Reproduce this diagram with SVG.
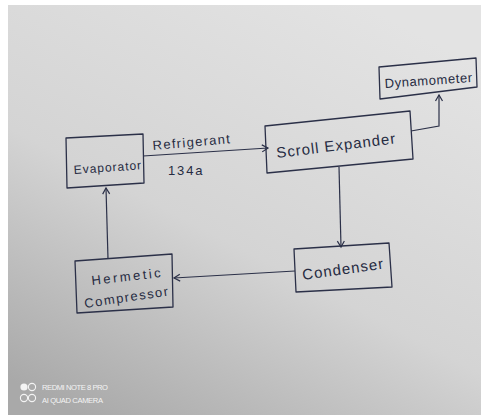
<svg xmlns="http://www.w3.org/2000/svg" width="481" height="419" viewBox="0 0 481 419">
<defs>
<linearGradient id="bg" x1="0.75" y1="0" x2="0.15" y2="1">
<stop offset="0" stop-color="#e3e3e3"/>
<stop offset="0.55" stop-color="#d4d4d4"/>
<stop offset="1" stop-color="#a9a9a9"/>
</linearGradient>
<marker id="arr" markerWidth="10" markerHeight="10" refX="8" refY="5" orient="auto" markerUnits="userSpaceOnUse">
<path d="M2,1.5 L8,5 L2,8.5" fill="none" stroke="#2b3048" stroke-width="1.2"/>
</marker>
<style>
.box{fill:none;stroke:#2b3048;stroke-width:1.3;stroke-linejoin:round}
.ln{fill:none;stroke:#2b3048;stroke-width:1.2}
.t{font-family:"Liberation Sans",Arial,sans-serif;fill:#262b42;letter-spacing:0.5px}
.wm{font-family:"Liberation Sans",Arial,sans-serif;fill:#f4f4f4;font-size:7.6px}
</style>
</defs>
<rect x="0" y="0" width="481" height="419" fill="#ffffff"/>
<rect x="8" y="5" width="473" height="410" fill="url(#bg)"/>

<g id="connectors">
<line class="ln" x1="143" y1="156" x2="268" y2="148" marker-end="url(#arr)"/>
<polyline class="ln" points="411,131 439,126 439,95" marker-end="url(#arr)"/>
<line class="ln" x1="339" y1="167" x2="341" y2="247" marker-end="url(#arr)"/>
<line class="ln" x1="295" y1="271" x2="174" y2="278" marker-end="url(#arr)"/>
<line class="ln" x1="108" y1="259" x2="106" y2="188" marker-end="url(#arr)"/>
<text class="t" font-size="13" x="153" y="150" textLength="78" transform="rotate(-5 153 150)">Refrigerant</text>
<text class="t" font-size="13" x="168" y="175" textLength="35">134a</text>
</g>

<g id="evaporator">
<polygon class="box" points="66,138 143,134 144,183 67,188"/>
<text class="t" font-size="12" x="74" y="174" textLength="68" transform="rotate(-4 74 174)">Evaporator</text>
</g>

<g id="scroll-expander">
<polygon class="box" points="265,126 410,111 413,159 267,173"/>
<text class="t" font-size="15" x="277" y="158" textLength="120" transform="rotate(-7 277 158)">Scroll Expander</text>
</g>

<g id="dynamometer">
<polygon class="box" points="379,67 476,58 477,87 380,99"/>
<text class="t" font-size="13" x="385" y="88" textLength="88" transform="rotate(-4 385 88)">Dynamometer</text>
</g>

<g id="condenser">
<polygon class="box" points="294,249 389,243 392,287 296,292"/>
<text class="t" font-size="15" x="303" y="280" textLength="82" transform="rotate(-8 303 280)">Condenser</text>
</g>

<g id="hermetic-compressor">
<polygon class="box" points="75,261 172,254 173,307 77,313"/>
<text class="t" font-size="13" x="92" y="285" textLength="70" transform="rotate(-6.5 92 285)">Hermetic</text>
<text class="t" font-size="13" x="85" y="308" textLength="85" transform="rotate(-8.5 85 308)">Compressor</text>
</g>

<g id="watermark">
<circle cx="24" cy="387" r="3.6" fill="#f4f4f4"/>
<circle cx="32" cy="387" r="3.6" fill="none" stroke="#f4f4f4" stroke-width="1.1"/>
<circle cx="24" cy="398" r="3.6" fill="none" stroke="#f4f4f4" stroke-width="1.1"/>
<circle cx="32" cy="398" r="3.6" fill="none" stroke="#f4f4f4" stroke-width="1.1"/>
<text class="wm" x="42" y="390" textLength="66">REDMI NOTE 8 PRO</text>
<text class="wm" x="42" y="403" textLength="61">AI QUAD CAMERA</text>
</g>
</svg>
